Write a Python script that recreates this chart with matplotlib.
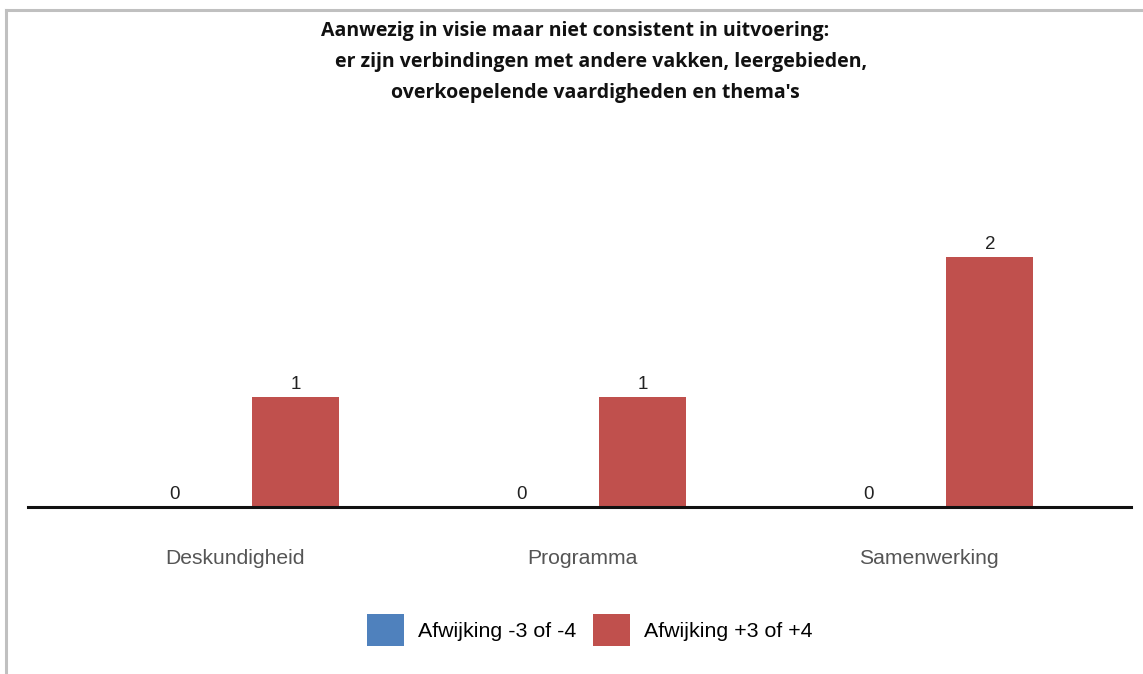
import matplotlib
matplotlib.use("Agg")
import matplotlib.pyplot as plt
from matplotlib.lines import Line2D
from matplotlib.patches import Patch
import numpy as np

categories = ["Deskundigheid", "Programma", "Samenwerking"]
series_names = ["Afwijking -3 of -4", "Afwijking +3 of +4"]
neg_values = [0, 0, 0]
pos_values = [1, 1, 2]
colors = ["#4F81BD", "#C0504D"]
title_lines = [
    "Aanwezig in visie maar niet consistent in uitvoering:",
    "er zijn verbindingen met andere vakken, leergebieden,",
    "overkoepelende vaardigheden en thema's",
]

W, H = 1143, 674
fig = plt.figure(figsize=(W / 100, H / 100), dpi=100)
fig.patch.set_facecolor("white")

ax = fig.add_axes([28 / W, (H - 507) / H, 1103 / W, 347 / H])
x = np.arange(len(categories))
bw = 0.25
off = 0.175
ymin, ymax = 0.215, 2.69
ax.bar(x - off, neg_values, bw, color=colors[0])
ax.bar(x + off, pos_values, bw, color=colors[1])
ax.set_xlim(-0.597, 2.582)
ax.set_ylim(ymin, ymax)

for xi, v in zip(x - off, neg_values):
    ax.annotate(str(v), (xi, max(v, ymin)), xytext=(0, 3), textcoords="offset points",
                ha="center", va="bottom", fontsize=13.5, color="#222222", family="Liberation Sans")
for xi, v in zip(x + off, pos_values):
    ax.annotate(str(v), (xi, max(v, ymin)), xytext=(0, 3), textcoords="offset points",
                ha="center", va="bottom", fontsize=13.5, color="#222222", family="Liberation Sans")

for s in ["left", "right", "top"]:
    ax.spines[s].set_visible(False)
ax.spines["bottom"].set_linewidth(2.2)
ax.spines["bottom"].set_color("#111111")
ax.set_yticks([])
ax.set_xticks(x)
ax.set_xticklabels(categories, fontsize=15.2, color="#555555", family="Liberation Sans")
ax.tick_params(axis="x", length=0, pad=30)

# title
title_pos = [(575, 31), (601, 62), (595, 93)]
for t, (px, py) in zip(title_lines, title_pos):
    fig.text(px / W, 1 - py / H, t, ha="center", va="center", fontsize=14.0,
             fontweight="bold", family="Open Sans", color="#111111")

# legend
handles = [Patch(facecolor=c, edgecolor="none") for c in colors]
fig.legend(handles, series_names, loc="center", bbox_to_anchor=(590 / W, 1 - 630 / H),
           ncol=2, frameon=False, prop={"family": "Liberation Sans", "size": 15.4},
           handlelength=1.73, handleheight=1.95, handletextpad=0.65, columnspacing=0.8)

# frame
fig.add_artist(Line2D([6 / W, 6 / W], [0, 1 - 10 / H], color="#c0c0c0", lw=2.2, transform=fig.transFigure))
fig.add_artist(Line2D([6 / W, 1], [1 - 10 / H, 1 - 10 / H], color="#c0c0c0", lw=2.2, transform=fig.transFigure))

fig.savefig("out.png", dpi=100)
